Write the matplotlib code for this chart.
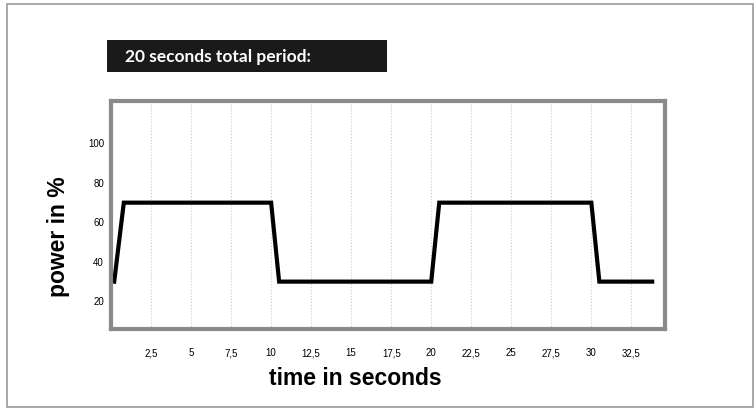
import matplotlib.pyplot as plt
from matplotlib.patches import Rectangle

# power profile, 20 s period
time_s = [0.2, 0.8, 10.0, 10.5, 20.0, 20.5, 30.0, 30.5, 33.8]
power_pct = [30, 70, 70, 30, 30, 70, 70, 30, 30]

x_ticks = [2.5, 5, 7.5, 10, 12.5, 15, 17.5, 20, 22.5, 25, 27.5, 30, 32.5]
x_labels = ['2,5', '5', '7,5', '10', '12,5', '15', '17,5', '20', '22,5', '25', '27,5', '30', '32,5']
y_ticks = [20, 40, 60, 80, 100]

fig = plt.figure(figsize=(7.55, 4.11), dpi=100)

# outer frame of the slide
fig.patches.append(Rectangle((0.009, 0.01), 0.988, 0.98, transform=fig.transFigure,
                             fill=False, edgecolor='#999999', linewidth=1.2))

# title bar
fig.patches.append(Rectangle((107 / 755, 1 - 72 / 411), 280 / 755, 32 / 411,
                             transform=fig.transFigure, facecolor='#1a1a1a', edgecolor='none'))
fig.text(125 / 755, 1 - 57 / 411, '20 seconds total period:', color='white',
         fontsize=12.5, fontweight='bold', va='center', ha='left',
         family=['Lato', 'DejaVu Sans'])

ax = fig.add_axes([111 / 755, 1 - 329 / 411, 554 / 755, 228 / 411])
ax.plot(time_s, power_pct, color='black', linewidth=3, solid_joinstyle='miter')

ax.set_xlim(0, 34.6)
ax.set_ylim(6, 121.5)
ax.set_xticks(x_ticks)
ax.set_xticklabels(x_labels)
ax.set_yticks(y_ticks)
ax.tick_params(length=0, labelsize=7)
ax.tick_params(axis='x', pad=14)
ax.tick_params(axis='y', pad=5)
for lbl in ax.get_xticklabels() + ax.get_yticklabels():
    lbl.set_family(['Liberation Sans', 'DejaVu Sans'])

ax.grid(axis='x', color='#cccccc', linestyle=':', linewidth=0.8)
for s in ax.spines.values():
    s.set_edgecolor('#8a8a8a')
    s.set_linewidth(3)

# axis titles placed like in the original slide
fig.text(355 / 755, 1 - 378 / 411, 'time in seconds', fontsize=16.5, fontweight='bold',
         ha='center', va='center', family=['Liberation Sans', 'DejaVu Sans'])
fig.text(58 / 755, 1 - 237 / 411, 'power in %', fontsize=16.5, fontweight='bold',
         rotation=90, ha='center', va='center', family=['Liberation Sans', 'DejaVu Sans'])

plt.savefig('out.png', dpi=100)
